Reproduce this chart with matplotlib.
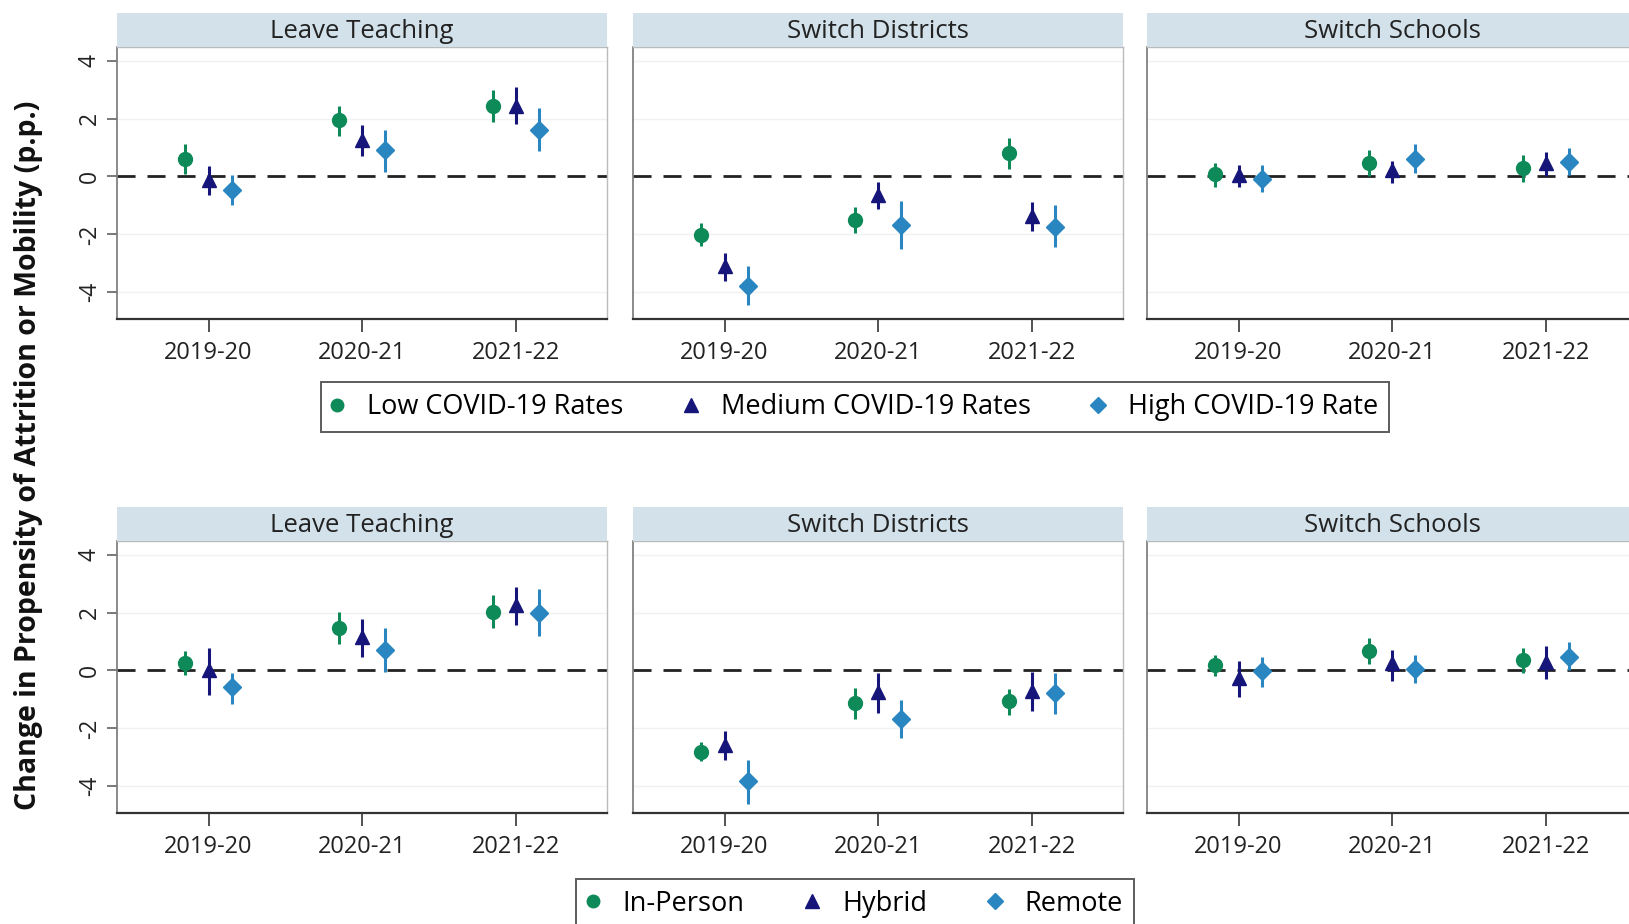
import numpy as np
import matplotlib.pyplot as plt
from matplotlib.lines import Line2D

plt.rcParams['font.family'] = ['Open Sans', 'DejaVu Sans']

# -----------------------------------------------------
# data (rows = group, columns = school year)
# -----------------------------------------------------
years = ["2019-20", "2020-21", "2021-22"]
outcomes = ["Leave Teaching", "Switch Districts", "Switch Schools"]

covid_groups = ["Low COVID-19 Rates", "Medium COVID-19 Rates", "High COVID-19 Rate"]
mode_groups = ["In-Person", "Hybrid", "Remote"]

# top row: COVID-19 rates
covid_leave_est = [[0.60, 1.94, 2.42], [-0.13, 1.27, 2.45], [-0.45, 0.90, 1.60]]
covid_leave_lo = [[0.10, 1.41, 1.87], [-0.63, 0.72, 1.81], [-0.98, 0.17, 0.87]]
covid_leave_hi = [[1.12, 2.45, 3.00], [0.35, 1.79, 3.09], [0.06, 1.61, 2.35]]

covid_district_est = [[-2.02, -1.50, 0.81], [-3.08, -0.63, -1.35], [-3.77, -1.66, -1.73]]
covid_district_lo = [[-2.39, -1.95, 0.27], [-3.60, -1.12, -1.87], [-4.43, -2.50, -2.45]]
covid_district_hi = [[-1.61, -1.06, 1.33], [-2.64, -0.20, -0.89], [-3.08, -0.83, -1.00]]

covid_school_est = [[0.09, 0.46, 0.28], [0.06, 0.21, 0.46], [-0.08, 0.62, 0.51]]
covid_school_lo = [[-0.35, 0.02, -0.18], [-0.37, -0.21, 0.00], [-0.55, 0.12, 0.06]]
covid_school_hi = [[0.46, 0.92, 0.73], [0.40, 0.55, 0.83], [0.38, 1.13, 1.00]]

# bottom row: instructional mode
mode_leave_est = [[0.27, 1.46, 2.02], [0.01, 1.15, 2.25], [-0.57, 0.70, 1.98]]
mode_leave_lo = [[-0.14, 0.92, 1.45], [-0.83, 0.45, 1.56], [-1.16, -0.05, 1.19]]
mode_leave_hi = [[0.66, 2.01, 2.60], [0.78, 1.78, 2.89], [-0.08, 1.45, 2.81]]

mode_district_est = [[-2.81, -1.13, -1.05], [-2.58, -0.75, -0.70], [-3.83, -1.67, -0.79]]
mode_district_lo = [[-3.14, -1.67, -1.52], [-3.10, -1.46, -1.40], [-4.60, -2.32, -1.49]]
mode_district_hi = [[-2.46, -0.61, -0.63], [-2.10, -0.10, -0.05], [-3.08, -1.02, -0.10]]

mode_school_est = [[0.19, 0.66, 0.36], [-0.26, 0.25, 0.30], [-0.02, 0.05, 0.48]]
mode_school_lo = [[-0.20, 0.22, -0.08], [-0.93, -0.36, -0.31], [-0.58, -0.44, 0.01]]
mode_school_hi = [[0.54, 1.13, 0.78], [0.34, 0.72, 0.83], [0.48, 0.54, 0.98]]

rows = [
    [(covid_leave_est, covid_leave_lo, covid_leave_hi),
     (covid_district_est, covid_district_lo, covid_district_hi),
     (covid_school_est, covid_school_lo, covid_school_hi)],
    [(mode_leave_est, mode_leave_lo, mode_leave_hi),
     (mode_district_est, mode_district_lo, mode_district_hi),
     (mode_school_est, mode_school_lo, mode_school_hi)],
]

colors = ["#0e8a58", "#16167a", "#2a86c0"]
markers = ["o", "^", "D"]
msizes = [10, 10.5, 9.5]
offsets = [-0.15, 0.0, 0.15]

# -----------------------------------------------------
# figure / layout (pixel-based)
# -----------------------------------------------------
W, H = 1629, 924
fig = plt.figure(figsize=(W / 100, H / 100), dpi=100)

panel_left = [117, 633, 1147]
panel_w = 490
row_top = [47, 541]
row_bottom = [319, 813]
strip_h = 34

strip_color = "#d3e1ea"
x = np.arange(1, 4)

for r in range(2):
    for c in range(3):
        left = panel_left[c] / W
        bottom = 1 - row_bottom[r] / H
        height = (row_bottom[r] - row_top[r]) / H
        ax = fig.add_axes([left, bottom, panel_w / W, height])

        est, lo, hi = rows[r][c]
        for g in range(3):
            xs = x + offsets[g]
            ax.vlines(xs, lo[g], hi[g], color=colors[g], lw=2.2, zorder=3)
            ax.plot(xs, est[g], linestyle="none", marker=markers[g],
                    ms=msizes[g], color=colors[g], mec=colors[g], zorder=4)

        ax.axhline(0, color="#222222", lw=2, dashes=(6.5, 4.3), zorder=2)
        for yy in [-4, -2, 2, 4]:
            ax.axhline(yy, color="#f1f1f1", lw=1, zorder=1)

        ax.set_xlim(0.405, 3.59)
        ax.set_ylim(-4.92, 4.47)
        ax.set_xticks(x)
        ax.set_xticklabels(years, fontsize=17, color="#222222")
        ax.tick_params(axis="x", length=9, width=1.3, color="#444444", pad=7)
        ax.set_yticks([-4, -2, 0, 2, 4])
        if c == 0:
            ax.set_yticklabels(["-4", "-2", "0", "2", "4"], rotation=90,
                               va="center", fontsize=16.5, color="#222222")
            ax.tick_params(axis="y", length=7, width=1.1, color="#555555", pad=4)
        else:
            ax.tick_params(axis="y", length=0, labelleft=False)

        for s in ["top", "right"]:
            ax.spines[s].set_color("#bbbbbb")
            ax.spines[s].set_linewidth(1)
        ax.spines["left"].set_color("#777777")
        ax.spines["left"].set_linewidth(1.2)
        ax.spines["bottom"].set_color("#333333")
        ax.spines["bottom"].set_linewidth(1.6)

        # strip with panel title
        sax = fig.add_axes([left, 1 - row_top[r] / H, panel_w / W, strip_h / H])
        sax.set_facecolor(strip_color)
        sax.set_xticks([])
        sax.set_yticks([])
        for s in sax.spines.values():
            s.set_visible(False)
        sax.text(0.5, 0.45, outcomes[c], ha="center", va="center",
                 fontsize=18.5, color="#222222", transform=sax.transAxes)

# -----------------------------------------------------
# legends
# -----------------------------------------------------
def handles(labels):
    return [Line2D([], [], linestyle="none", marker=markers[i], ms=msizes[i] - 1,
                   color=colors[i], label=labels[i]) for i in range(3)]

leg_kw = dict(ncol=3, fontsize=19.5, frameon=True, fancybox=False,
              handletextpad=0.9, columnspacing=2.3, borderpad=0.4,
              handlelength=0.4, borderaxespad=0, edgecolor="#333333")

leg1 = fig.legend(handles=handles(covid_groups), loc="center",
                  bbox_to_anchor=(855 / W, 1 - 407 / H), **leg_kw)
leg1.get_frame().set_linewidth(1.4)

leg2 = fig.legend(handles=handles(mode_groups), loc="upper center",
                  bbox_to_anchor=(855 / W, 1 - 879 / H), **leg_kw)
leg2.get_frame().set_linewidth(1.4)

fig.text(29 / W, 1 - 455 / H,
         "Change in Propensity of Attrition or Mobility (p.p.)",
         rotation=90, ha="center", va="center", fontsize=20.5,
         fontweight="bold", color="#111111")

plt.savefig("out.png", dpi=100)
